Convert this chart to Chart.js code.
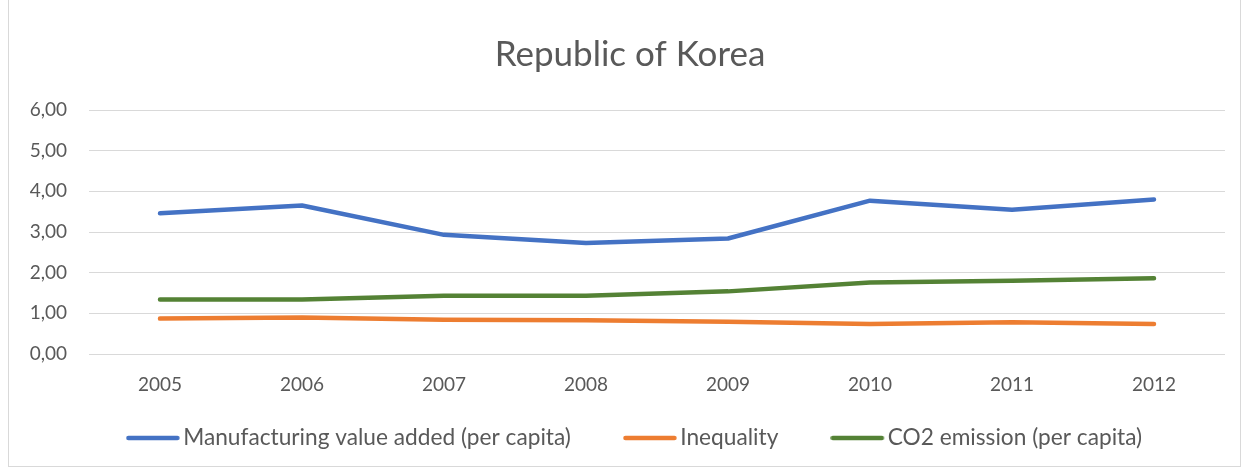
<!DOCTYPE html>
<html>
<head>
<meta charset="utf-8">
<script src="https://cdn.jsdelivr.net/npm/chart.js"></script>
<style>
  html, body { margin: 0; padding: 0; background: #fff; }
  #wrap { position: relative; width: 1247px; height: 470px; }
  #frame { position: absolute; left: 8px; top: -1px; width: 1231px; height: 466px; border: 1px solid #d9d9d9; }
  canvas { position: absolute; left: 0; top: 0; }
</style>
</head>
<body>
<div id="wrap">
  <div id="frame"></div>
  <canvas id="myChart" width="1247" height="470"></canvas>
</div>

<script>
    // Chart data
    const years = ['2005', '2006', '2007', '2008', '2009', '2010', '2011', '2012'];
    const manufacturing = [3.46, 3.65, 2.93, 2.73, 2.84, 3.77, 3.55, 3.80];
    const inequality = [0.87, 0.90, 0.84, 0.83, 0.79, 0.74, 0.78, 0.74];
    const co2 = [1.34, 1.34, 1.43, 1.43, 1.54, 1.76, 1.80, 1.86];
    const yTickLabels = ['0,00', '1,00', '2,00', '3,00', '4,00', '5,00', '6,00'];

    const font = 'Lato, "Open Sans", sans-serif';
    const grey = '#595959';

    // legend key: a 54px line with empty space on its right, so the text sits close to it
    function legendKey(color) {
        const c = document.createElement('canvas');
        c.width = 70;
        c.height = 8;
        const g = c.getContext('2d');
        g.strokeStyle = color;
        g.lineWidth = 4.5;
        g.lineCap = 'round';
        g.beginPath();
        g.moveTo(2.5, 4);
        g.lineTo(51.5, 4);
        g.stroke();
        return c;
    }

    function line(label, data, color) {
        return {
            label: label,
            data: data,
            borderColor: color,
            backgroundColor: color,
            borderWidth: 4.5,
            borderCapStyle: 'round',
            borderJoinStyle: 'round',
            pointStyle: legendKey(color),
            pointRadius: 0,
            tension: 0,
            fill: false
        };
    }

    // move what a box draws without touching the layout
    function shiftDraw(box, method, dx, dy) {
        const draw = box[method];
        box[method] = function () {
            const l = this.left, r = this.right, t = this.top, b = this.bottom;
            this.left = l + dx; this.right = r + dx;
            this.top = t + dy; this.bottom = b + dy;
            draw.apply(this, arguments);
            this.left = l; this.right = r; this.top = t; this.bottom = b;
        };
    }

    // short legend box so the plot reaches down; title and legend centred like the Excel frame
    const layoutTweak = {
        id: 'layoutTweak',
        afterInit(chart) {
            const lg = chart.legend;
            const fit = lg.fit;
            lg.fit = function () {
                fit.call(this);
                this.height = 55.2;
            };
            shiftDraw(lg, '_draw', 33.5, -64.15);
            shiftDraw(chart.titleBlock, 'draw', 17.5, 0);
        }
    };

    const ctx = document.getElementById('myChart').getContext('2d');

    const myChart = new Chart(ctx, {
        type: 'line',
        data: {
            labels: years,
            datasets: [
                line('Manufacturing value added (per capita)', manufacturing, '#4472C4'),
                line('Inequality', inequality, '#ED7D31'),
                line('CO2 emission (per capita)', co2, '#548235')
            ]
        },
        options: {
            responsive: false,
            animation: false,
            layout: { padding: { left: 0, right: 22, top: 0, bottom: 0 } },
            plugins: {
                title: {
                    display: true,
                    text: 'Republic of Korea',
                    color: grey,
                    font: { family: font, size: 35, weight: '400' },
                    padding: { top: 34, bottom: 34 }
                },
                legend: {
                    position: 'bottom',
                    labels: {
                        color: grey,
                        font: { family: font, size: 22.7 },
                        usePointStyle: true,
                        boxWidth: 22,
                        padding: 76
                    }
                },
                tooltip: { enabled: false }
            },
            scales: {
                x: {
                    offset: true,
                    grid: { display: false, drawTicks: false },
                    border: { display: false },
                    ticks: { color: grey, font: { family: font, size: 19 }, padding: 19, maxRotation: 0 }
                },
                y: {
                    min: 0,
                    max: 6,
                    afterFit: function (scale) { scale.width = 89; },
                    grid: { color: '#d9d9d9', lineWidth: 1, drawTicks: false },
                    border: { display: false },
                    ticks: {
                        stepSize: 1,
                        color: grey,
                        font: { family: font, size: 19 },
                        padding: 22,
                        callback: function (value) { return yTickLabels[value]; }
                    }
                }
            }
        },
        plugins: [layoutTweak]
    });
</script>
</body>
</html>
